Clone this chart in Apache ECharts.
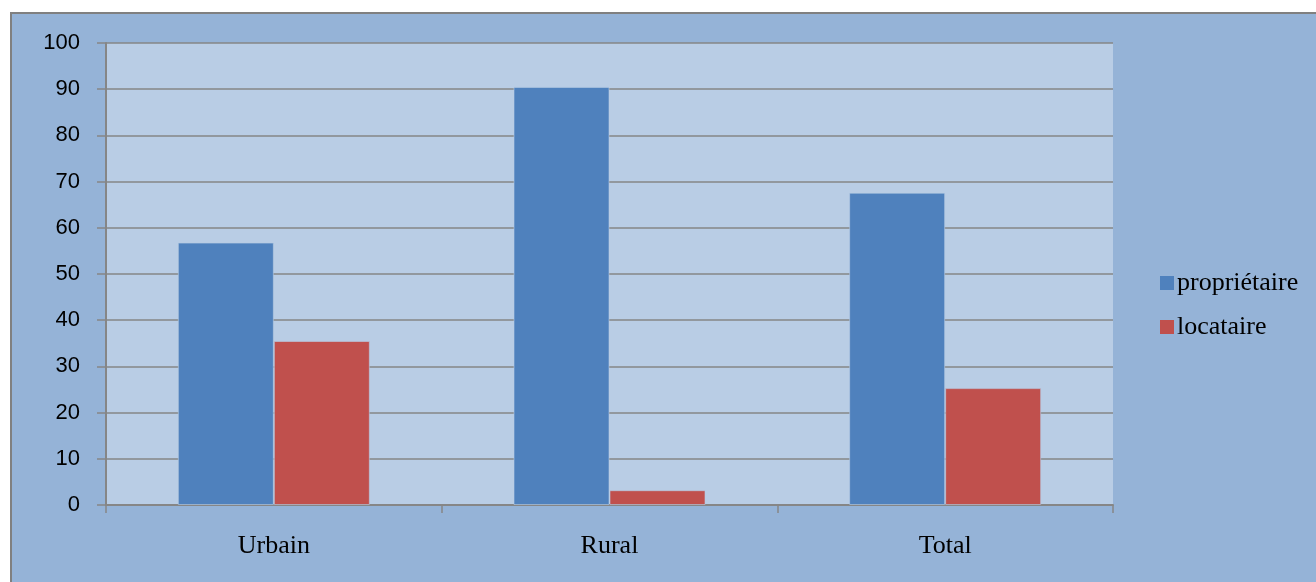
<!DOCTYPE html>
<html>
<head>
    <meta charset="utf-8">
    <title>propriétaire / locataire</title>
    <script src="https://cdn.jsdelivr.net/npm/echarts@6/dist/echarts.min.js"></script>
    <style>
        * { margin: 0; padding: 0; }
        html, body { background: #fff; }
        #main { width: 1316px; height: 582px; }
    </style>
</head>
<body>
<div id="main"></div>
<script>
    var categories = ['Urbain', 'Rural', 'Total'];
    var proprietaire = [56.8, 90.5, 67.6];
    var locataire = [35.5, 3.2, 25.3];
    var yTicks = [0, 10, 20, 30, 40, 50, 60, 70, 80, 90, 100];

    var chart = echarts.init(document.getElementById('main'));
    var gridColor = '#868686';
    var barBorder = 'rgba(185,205,229,0.6)';

    var option = {
        animation: false,
        graphic: [{
            type: 'rect',
            left: 10, top: 12,
            shape: { width: 1320, height: 600 },
            style: { fill: '#95B3D7', stroke: '#808080', lineWidth: 2 },
            z: -10
        }],
        color: ['#4F81BD', '#C0504D'],
        grid: {
            left: 106, top: 43, width: 1007, height: 462,
            show: true,
            backgroundColor: '#B9CDE5',
            borderWidth: 0
        },
        legend: {
            orient: 'vertical',
            left: 1155, top: 265,
            icon: 'rect',
            itemWidth: 14, itemHeight: 14,
            itemGap: 18,
            itemStyle: { borderWidth: 0 },
            textStyle: { fontFamily: 'Liberation Serif', fontSize: 26, color: '#000', padding: [0, 0, 0, -2] },
            data: ['propriétaire', 'locataire']
        },
        xAxis: {
            type: 'category',
            data: categories,
            axisLine: { lineStyle: { color: gridColor, width: 2 } },
            axisTick: { show: true, length: 8, lineStyle: { color: gridColor, width: 1.5 } },
            axisLabel: { fontFamily: 'Liberation Serif', fontSize: 26, color: '#000', margin: 28 }
        },
        yAxis: {
            type: 'value',
            min: yTicks[0], max: yTicks[yTicks.length - 1], interval: 10,
            axisLine: { show: true, lineStyle: { color: gridColor, width: 2 } },
            axisTick: { show: true, length: 9, lineStyle: { color: gridColor, width: 1.5 } },
            splitLine: { lineStyle: { color: gridColor, width: 1.5 } },
            axisLabel: { fontFamily: 'Liberation Sans', fontSize: 22, color: '#000', margin: 26 }
        },
        series: [
            {
                name: 'propriétaire', type: 'bar', barWidth: 96, barGap: '0%',
                itemStyle: { borderColor: barBorder, borderWidth: 1 },
                data: proprietaire
            },
            {
                name: 'locataire', type: 'bar', barWidth: 96,
                itemStyle: { borderColor: barBorder, borderWidth: 1 },
                data: locataire
            }
        ]
    };
    chart.setOption(option);
</script>
</body>
</html>
